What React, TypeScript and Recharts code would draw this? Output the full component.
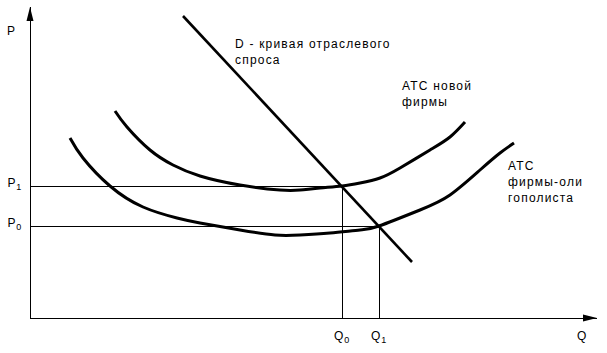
import React from "react";
import { ComposedChart, Line, XAxis, YAxis, ReferenceLine, ReferenceDot } from "recharts";

const FONT = "'Liberation Sans', Arial, sans-serif";
const INK = "#000";

// diagram units (arbitrary quantity / price scale)
const Q_MAX = 570;
const P_MAX = 310;
const Q0 = 312;
const Q1 = 349;
const P0 = 92;
const P1 = 132;

const atcNew = [
  { q: 85, p: 207 },
  { q: 97, p: 191 },
  { q: 120, p: 168 },
  { q: 143, p: 153 },
  { q: 170, p: 142 },
  { q: 210, p: 133 },
  { q: 250, p: 128 },
  { q: 270, p: 128 },
  { q: 290, p: 130 },
  { q: 312, p: 132 },
  { q: 330, p: 135 },
  { q: 350, p: 140 },
  { q: 370, p: 150 },
  { q: 400, p: 168 },
  { q: 420, p: 181 },
  { q: 435, p: 196 },
];

const atcOligopolist = [
  { q: 40, p: 180 },
  { q: 53, p: 160 },
  { q: 80, p: 132 },
  { q: 113, p: 111 },
  { q: 147, p: 100 },
  { q: 170, p: 95 },
  { q: 210, p: 88 },
  { q: 245, p: 83 },
  { q: 270, p: 83 },
  { q: 300, p: 85 },
  { q: 330, p: 88 },
  { q: 349, p: 92 },
  { q: 390, p: 108 },
  { q: 420, p: 123 },
  { q: 450, p: 148 },
  { q: 470, p: 165 },
  { q: 484, p: 175 },
];

const demand = [
  { q: 153, p: 302 },
  { q: 382, p: 56 },
];

const priceTicks = [P0, P1];
const priceTickLabels = [["P", "0"], ["P", "1"]];
const quantityTicks = [Q0, Q1];
const quantityTickLabels = [["Q", "0"], ["Q", "1"]];

const notes = [
  { q: 205, p: 270, lines: ["D - кривая отраслевого", "спроса"] },
  { q: 372, p: 228, lines: ["АТС новой", "фирмы"] },
  { q: 478, p: 148, lines: ["АТС", "фирмы-оли", "гополиста"] },
  { q: -23, p: 283, lines: ["P"] },
  { q: 547, p: -22, lines: ["Q"] },
];

const textStyle = { fontFamily: FONT, fontSize: 12, letterSpacing: 1.2, fill: INK };

function Arrowed(props: any) {
  const { x1, y1, x2, y2 } = props;
  const a = Math.atan2(y2 - y1, x2 - x1);
  const len = 14;
  const hw = 3.5;
  const bx = x2 - len * Math.cos(a);
  const by = y2 - len * Math.sin(a);
  const px = -Math.sin(a) * hw;
  const py = Math.cos(a) * hw;
  return (
    <g>
      <line x1={x1} y1={y1} x2={x2} y2={y2} stroke={INK} strokeWidth={1} shapeRendering="crispEdges" />
      <polygon points={`${x2},${y2} ${bx + px},${by + py} ${bx - px},${by - py}`} fill={INK} />
    </g>
  );
}

function Guide(props: any) {
  const { x1, y1, x2, y2 } = props;
  return <line x1={x1} y1={y1} x2={x2} y2={y2} stroke={INK} strokeWidth={1} shapeRendering="crispEdges" />;
}

function SubLabel({ text, x, y, anchor }: { text: string[]; x: number; y: number; anchor: "end" | "middle" }) {
  return (
    <text x={x} y={y} textAnchor={anchor} style={{ ...textStyle, letterSpacing: 0.8 }}>
      {text[0]}
      <tspan fontSize={9} dy={3}>
        {text[1]}
      </tspan>
    </text>
  );
}

function PriceTick(props: any) {
  const { x, y, payload } = props;
  const i = priceTicks.indexOf(payload.value);
  return <SubLabel text={priceTickLabels[i]} x={x - 8} y={y + 1} anchor="end" />;
}

function QuantityTick(props: any) {
  const { x, y, payload } = props;
  const i = quantityTicks.indexOf(payload.value);
  return <SubLabel text={quantityTickLabels[i]} x={x} y={y + 22} anchor="middle" />;
}

function noteShape(lines: string[]) {
  return (props: any) => (
    <text x={props.cx} y={props.cy} style={textStyle}>
      {lines.map((l, i) => (
        <tspan key={i} x={props.cx} dy={i === 0 ? 0 : 16}>
          {l}
        </tspan>
      ))}
    </text>
  );
}

export default function App() {
  return (
    <div style={{ position: "absolute", left: 0, top: 0, background: "#fff" }}>
      <ComposedChart width={607} height={353} margin={{ top: 8, right: 7, bottom: 0, left: 0 }}>
        <XAxis
          type="number"
          dataKey="q"
          domain={[0, Q_MAX]}
          ticks={quantityTicks}
          height={35}
          axisLine={false}
          tickLine={false}
          tickSize={0}
          tickMargin={0}
          tick={<QuantityTick />}
          allowDataOverflow
        />
        <YAxis
          type="number"
          dataKey="p"
          domain={[0, P_MAX]}
          ticks={priceTicks}
          width={30}
          axisLine={false}
          tickLine={false}
          tickSize={0}
          tickMargin={0}
          tick={<PriceTick />}
          allowDataOverflow
        />

        <ReferenceLine segment={[{ x: 0, y: P1 }, { x: Q0, y: P1 }]} shape={Guide} ifOverflow="visible" />
        <ReferenceLine segment={[{ x: Q0, y: P1 }, { x: Q0, y: 0 }]} shape={Guide} ifOverflow="visible" />
        <ReferenceLine segment={[{ x: 0, y: P0 }, { x: Q1, y: P0 }]} shape={Guide} ifOverflow="visible" />
        <ReferenceLine segment={[{ x: Q1, y: P0 }, { x: Q1, y: 0 }]} shape={Guide} ifOverflow="visible" />

        <ReferenceLine segment={[{ x: 0, y: 0 }, { x: 0, y: P_MAX + 1 }]} shape={Arrowed} ifOverflow="visible" />
        <ReferenceLine segment={[{ x: 0, y: 0 }, { x: Q_MAX - 3, y: 0 }]} shape={Arrowed} ifOverflow="visible" />

        <Line data={atcNew} dataKey="p" type="natural" stroke={INK} strokeWidth={3} dot={false} activeDot={false} isAnimationActive={false} />
        <Line data={atcOligopolist} dataKey="p" type="natural" stroke={INK} strokeWidth={3} dot={false} activeDot={false} isAnimationActive={false} />
        <Line data={demand} dataKey="p" type="linear" stroke={INK} strokeWidth={2.6} dot={false} activeDot={false} isAnimationActive={false} />

        {notes.map((n, i) => (
          <ReferenceDot key={i} x={n.q} y={n.p} r={0} ifOverflow="visible" shape={noteShape(n.lines)} />
        ))}
      </ComposedChart>
    </div>
  );
}
